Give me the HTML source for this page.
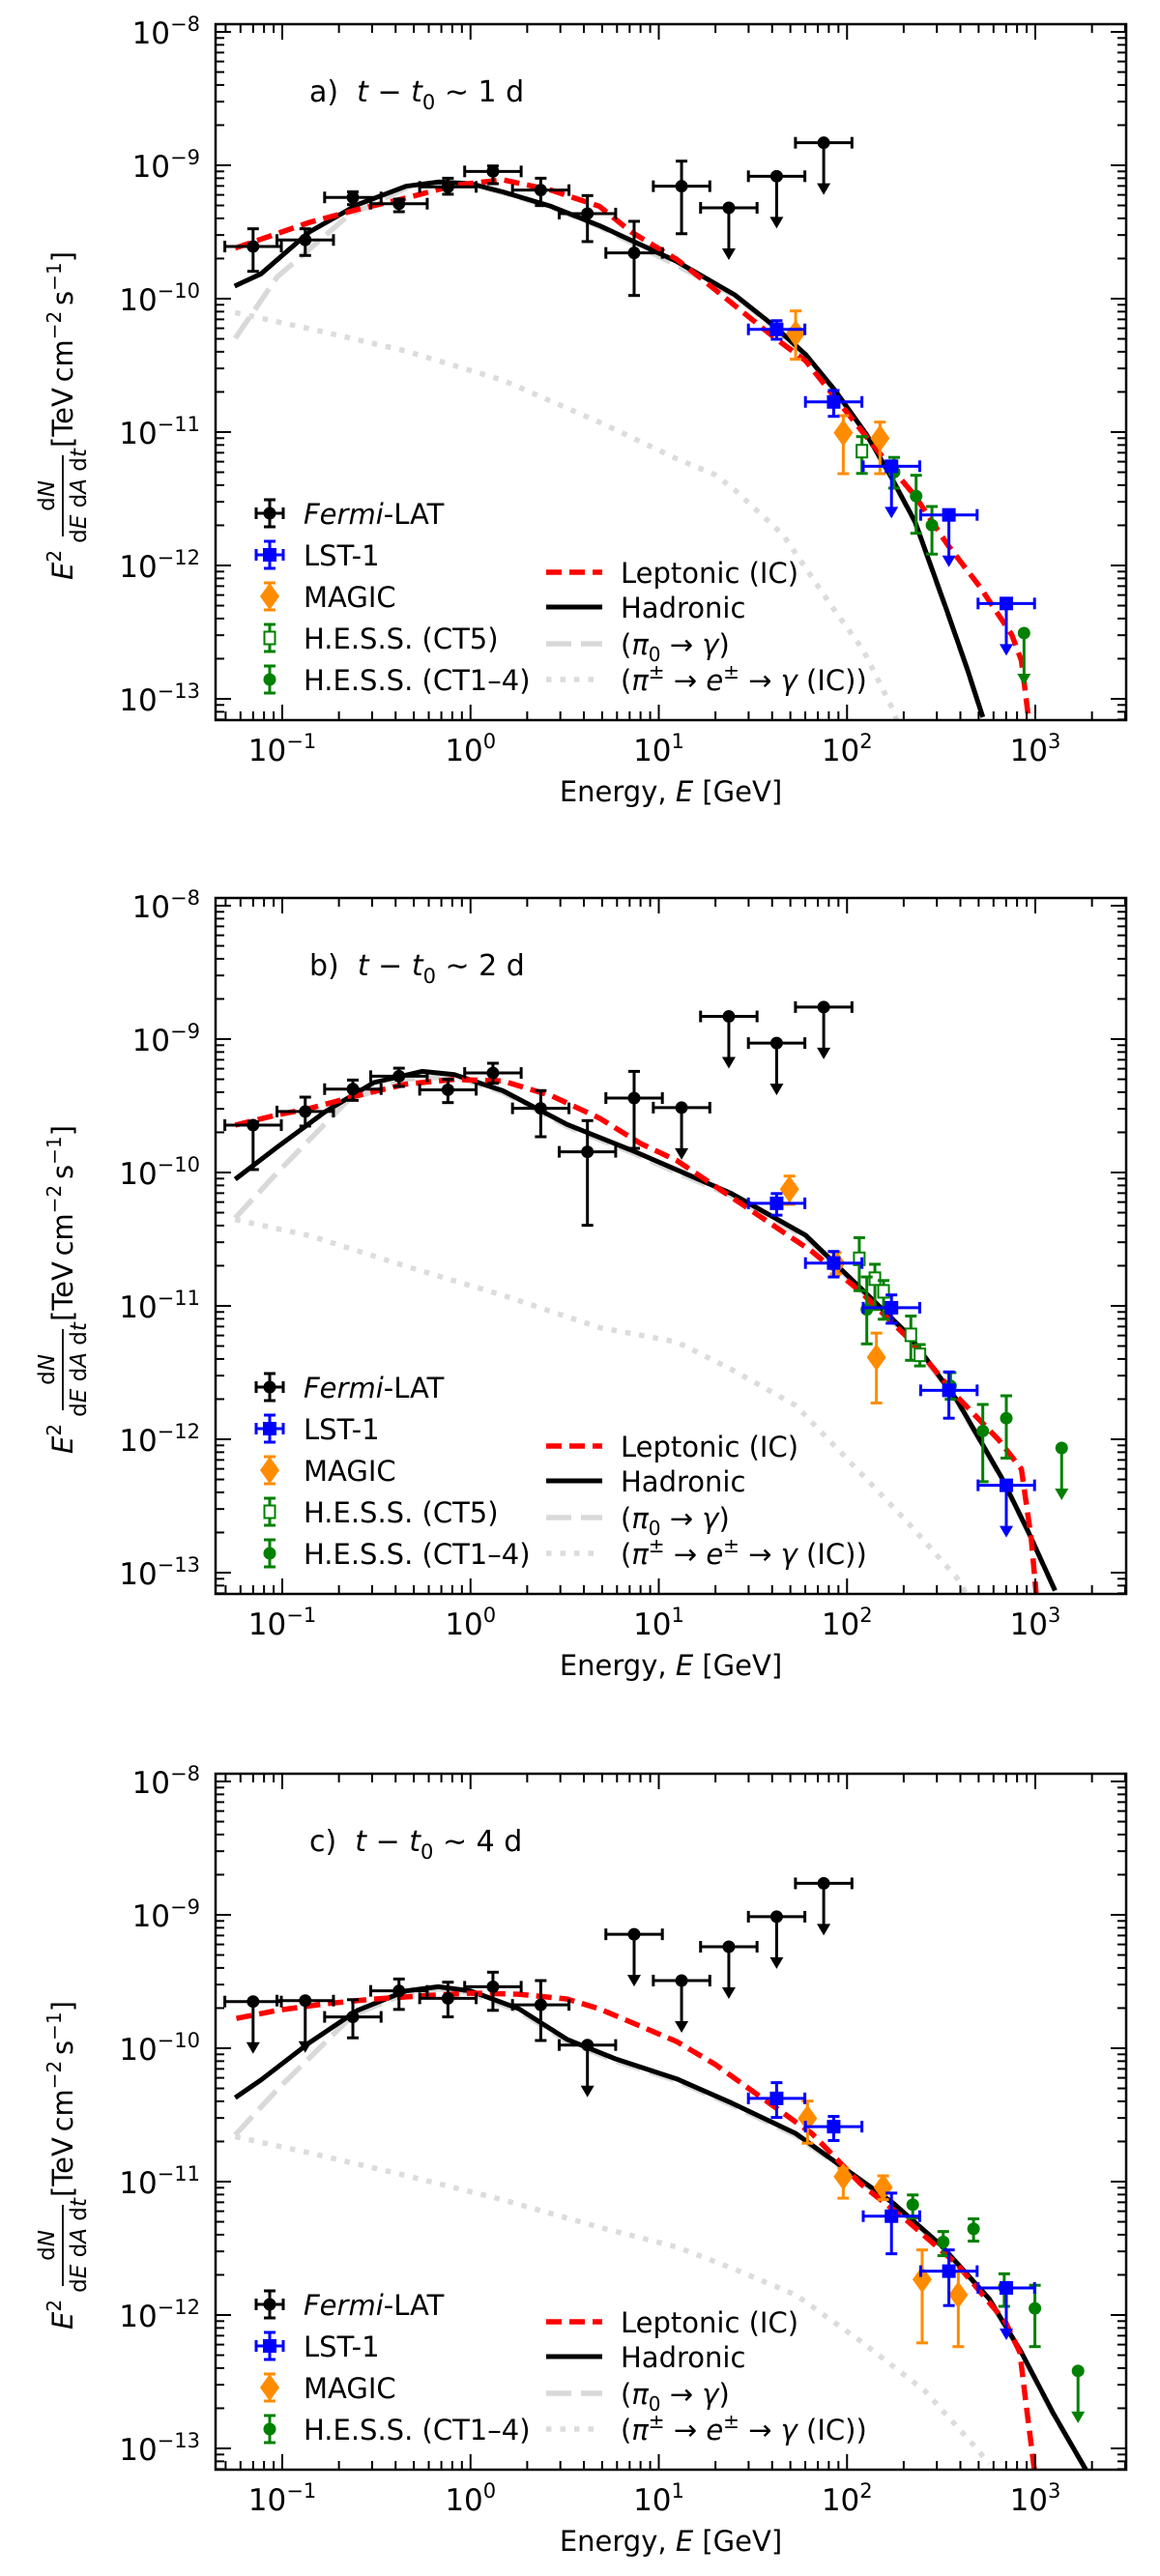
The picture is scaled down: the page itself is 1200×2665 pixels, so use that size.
<!DOCTYPE html>
<html><head><meta charset="utf-8"><style>
html,body{margin:0;padding:0;background:#fff;}
svg{display:block;font-family:"DejaVu Sans","Liberation Sans",sans-serif;}
</style></head><body>
<svg id="fig" width="1200" height="2665" viewBox="0 0 1200 2665" xmlns="http://www.w3.org/2000/svg"></svg>
<script>
// ===== Shared axis ticks =====
const xTickExps = [-1, 0, 1, 2, 3];
const yTickExps = [-8, -9, -10, -11, -12, -13];
const fermiLogE = [-1.155,-0.878,-0.625,-0.38,-0.12,0.119,0.373,0.621,0.869,1.121,1.372,1.626,1.876];
const lstLogE = [1.626,1.929,2.236,2.541,2.846];
const binHalfDec = 0.15;
const panelTitles = ["a)", "b)", "c)"];
const panelDays = ["1", "2", "4"];

// ===== Panel A data (log10 flux) =====
const fermiA_v  = [-9.609,-9.560,-9.241,-9.288,-9.162,-9.046,-9.186,-9.362,-9.657,-9.157,-9.319,-9.082,-8.831];
const fermiA_hi = [-9.476,-9.476,-9.199,-9.254,-9.097,-9.005,-9.097,-9.227,-9.420,-8.969,null,null,null];
const fermiA_lo = [-9.795,-9.676,-9.295,-9.348,-9.217,-9.138,-9.302,-9.572,-9.976,-9.513,null,null,null];
const fermiA_ul = [0,0,0,0,0,0,0,0,0,0,1,1,1];
const lstA_v  = [-10.230,-10.774,-11.256,-11.621,-12.285];
const lstA_hi = [-10.165,-10.688,null,null,null];
const lstA_lo = [-10.304,-10.882,null,null,null];
const lstA_ul = [0,0,1,1,1];
const magicA_E  = [1.727,1.980,2.175];
const magicA_v  = [-10.261,-11.005,-11.046];
const magicA_hi = [-10.092,-10.877,-10.925];
const magicA_lo = [-10.454,-11.312,-11.312];
const ct5A_E  = [2.079];
const ct5A_v  = [-11.143];
const ct5A_hi = [-11.034];
const ct5A_lo = [-11.31];
const ct14A_E  = [2.25,2.367,2.451,2.940];
const ct14A_v  = [-11.30,-11.48,-11.698,-12.507];
const ct14A_hi = [-11.19,-11.324,-11.558,null];
const ct14A_lo = [-11.42,-11.759,-11.915,null];
const ct14A_ul = [0,0,0,1];
const lepA_E = [-1.25,-0.856,-0.6,-0.343,-0.086,0.171,0.427,0.684,0.854,1.095,1.215,1.386,1.608,1.78,1.951,2.225,2.362,2.533,2.704,2.875,2.926,2.964,2.99];
const lepA_v = [-9.621,-9.428,-9.331,-9.246,-9.150,-9.109,-9.186,-9.307,-9.5,-9.705,-9.838,-10.031,-10.285,-10.466,-10.768,-11.251,-11.48,-11.843,-12.157,-12.52,-12.712,-13.145,-13.4];
const hadA_E = [-1.253,-1.113,-0.856,-0.6,-0.343,-0.171,0,0.171,0.427,0.684,1.095,1.403,1.608,1.78,1.934,2.105,2.225,2.362,2.533,2.635,2.721];
const hadA_v = [-9.906,-9.814,-9.5,-9.295,-9.157,-9.125,-9.138,-9.199,-9.307,-9.452,-9.72,-9.971,-10.2,-10.418,-10.683,-11.022,-11.312,-11.674,-12.35,-12.76,-13.136];
const pi0A_E = [-1.25,-1.027,-0.651,-0.343,-0.171,0,0.171,0.427,0.684,1.095,1.403,1.608,1.78,1.934,2.105,2.225,2.362,2.533,2.635,2.721];
const pi0A_v = [-10.297,-9.838,-9.379,-9.17,-9.135,-9.145,-9.205,-9.315,-9.46,-9.75,-9.98,-10.21,-10.425,-10.69,-11.03,-11.32,-11.68,-12.36,-12.77,-13.14];
const pipmA_E = [-1.25,-0.856,-0.343,0.171,0.684,1.095,1.3,1.403,1.66,1.917,2.088,2.24,2.3];
const pipmA_v = [-10.104,-10.225,-10.393,-10.611,-10.925,-11.2,-11.32,-11.433,-11.77,-12.302,-12.64,-13.07,-13.3];

// ===== Panel B data =====
const fermiB_v  = [-9.645,-9.543,-9.375,-9.278,-9.38,-9.254,-9.519,-9.845,-9.442,-9.514,-8.83,-9.03,-8.76];
const fermiB_hi = [-9.62,-9.435,-9.307,-9.218,-9.302,-9.181,-9.386,-9.611,-9.242,null,null,null,null];
const fermiB_lo = [-9.978,-9.652,-9.459,-9.355,-9.476,-9.331,-9.732,-10.396,-9.819,null,null,null,null];
const fermiB_ul = [0,0,0,0,0,0,0,0,0,1,1,1,1];
const lstB_v  = [-10.231,-10.679,-11.014,-11.633,-12.345];
const lstB_hi = [-10.158,-10.592,-10.918,-11.495,null];
const lstB_lo = [-10.32,-10.783,-11.13,-11.842,null];
const lstB_ul = [0,0,0,0,1];
const magicB_E  = [1.694,1.94,2.156];
const magicB_v  = [-10.125,-10.68,-11.386];
const magicB_hi = [-10.027,-10.6,-11.204];
const magicB_lo = [-10.239,-10.76,-11.728];
const ct5B_E  = [2.065,2.148,2.194,2.339,2.387];
const ct5B_v  = [-10.647,-10.796,-10.891,-11.217,-11.367];
const ct5B_hi = [-10.489,-10.688,-10.81,-11.076,-11.29];
const ct5B_lo = [-10.886,-11.027,-11.1,-11.408,-11.45];
const ct14B_E  = [2.105,2.55,2.721,2.846,3.14];
const ct14B_v  = [-11.027,-11.6,-11.938,-11.842,-12.065];
const ct14B_hi = [-10.783,-11.5,-11.739,-11.674,null];
const ct14B_lo = [-11.285,-11.7,-12.318,-12.141,null];
const ct14B_ul = [0,0,0,0,1];
const lepB_E = [-1.25,-1.027,-0.856,-0.6,-0.343,-0.086,0.171,0.427,0.684,0.906,1.095,1.3,1.557,1.814,2.07,2.327,2.584,2.806,2.926,2.978,3.003,3.02];
const lepB_v = [-9.645,-9.568,-9.52,-9.423,-9.338,-9.302,-9.314,-9.423,-9.592,-9.785,-9.91,-10.103,-10.348,-10.592,-10.891,-11.245,-11.679,-12.005,-12.223,-12.739,-13.133,-13.4];
const hadB_E = [-1.25,-1.027,-0.77,-0.514,-0.257,-0.086,0.171,0.513,0.855,1.095,1.386,1.78,2.07,2.327,2.584,2.823,2.96,3.105];
const hadB_v = [-10.051,-9.81,-9.543,-9.326,-9.242,-9.266,-9.387,-9.64,-9.833,-9.98,-10.158,-10.47,-10.864,-11.217,-11.707,-12.291,-12.685,-13.133];
const pi0B_E = [-1.25,-1.027,-0.651,-0.343,-0.086,0.171,0.513,0.855,1.095,1.386,1.78,2.07,2.327,2.584,2.823,2.96,3.105];
const pi0B_v = [-10.341,-10.002,-9.459,-9.30,-9.28,-9.40,-9.655,-9.85,-10.0,-10.175,-10.485,-10.88,-11.23,-11.72,-12.3,-12.69,-13.14];
const pipmB_E = [-1.25,-0.856,-0.343,0.171,0.684,1.095,1.386,1.728,2.07,2.327,2.584,2.65];
const pipmB_v = [-10.353,-10.473,-10.703,-10.92,-11.162,-11.27,-11.476,-11.747,-12.25,-12.63,-13.04,-13.2];

// ===== Panel C data =====
const fermiC_v  = [-9.650,-9.643,-9.765,-9.570,-9.626,-9.539,-9.675,-9.976,-9.146,-9.493,-9.239,-9.014,-8.764];
const fermiC_hi = [null,null,-9.636,-9.481,-9.505,-9.430,-9.493,null,null,null,null,null,null];
const fermiC_lo = [null,null,-9.922,-9.709,-9.765,-9.716,-9.942,null,null,null,null,null,null];
const fermiC_ul = [1,1,0,0,0,0,0,1,1,1,1,1,1];
const lstC_v  = [-10.376,-10.588,-11.259,-11.671,-11.797];
const lstC_hi = [-10.258,-10.511,-11.086,-11.512,null];
const lstC_lo = [-10.519,-10.692,-11.541,-11.929,null];
const lstC_ul = [0,0,0,0,1];
const magicC_E  = [1.79,1.98,2.192,2.399,2.591];
const magicC_v  = [-10.525,-10.963,-11.043,-11.734,-11.849];
const magicC_hi = [-10.396,-10.9,-10.957,-11.512,-11.676];
const magicC_lo = [-10.712,-11.124,-11.135,-12.209,-12.237];
const ct14C_E  = [2.349,2.511,2.672,2.835,2.998,3.227];
const ct14C_v  = [-11.173,-11.452,-11.354,-11.791,-11.95,-12.419];
const ct14C_hi = [-11.1,-11.374,-11.279,-11.691,-11.777,null];
const ct14C_lo = [-11.273,-11.555,-11.446,-11.935,-12.237,null];
const ct14C_ul = [0,0,0,0,0,1];
const lepC_E = [-1.244,-1.027,-0.77,-0.514,-0.257,0,0.257,0.513,0.684,0.906,1.095,1.3,1.557,1.814,2.07,2.327,2.584,2.841,2.918,2.952,2.995,3.01];
const lepC_v = [-9.777,-9.716,-9.667,-9.631,-9.607,-9.587,-9.595,-9.631,-9.704,-9.837,-9.95,-10.122,-10.381,-10.64,-11.014,-11.302,-11.619,-12.05,-12.28,-12.683,-13.158,-13.4];
const hadC_E = [-1.25,-1.113,-0.856,-0.6,-0.343,-0.171,0,0.257,0.513,0.77,1.095,1.386,1.728,1.985,2.242,2.498,2.755,2.926,3.097,3.268];
const hadC_v = [-10.371,-10.238,-9.959,-9.716,-9.570,-9.539,-9.570,-9.704,-9.934,-10.080,-10.23,-10.41,-10.64,-10.899,-11.158,-11.475,-11.878,-12.28,-12.741,-13.158];
const pi0C_E = [-1.25,-1.027,-0.625,-0.343,-0.171,0,0.257,0.513,0.77,1.095,1.386,1.728,1.985,2.242,2.498,2.755,2.926,3.097,3.268];
const pi0C_v = [-10.65,-10.311,-9.752,-9.59,-9.555,-9.585,-9.72,-9.95,-10.095,-10.245,-10.425,-10.655,-10.91,-11.17,-11.485,-11.885,-12.29,-12.75,-13.16];
const pipmC_E = [-1.25,-0.856,-0.343,0.171,0.684,1.095,1.386,1.728,2.07,2.413,2.67,2.755];
const pipmC_v = [-10.663,-10.784,-10.954,-11.136,-11.342,-11.49,-11.647,-11.849,-12.194,-12.568,-12.971,-13.115];

// ===== Drawing =====
const NS = "http://www.w3.org/2000/svg";
const svg = document.getElementById('fig');
const AX_L = 223, AX_R = 1165, AX_T = 25, AX_B = 745;
const LOGX_MIN = -1.354, LOGX_MAX = 3.483;
const offsets = [0, 904, 1810];
function xs(logE){ return 292 + (logE + 1) * 194.75; }
function ys(logv, off){ return off + 723 - (logv + 13) * 138; }
function mk(tag, attrs, parent){
  const e = document.createElementNS(NS, tag);
  for (const k in attrs) e.setAttribute(k, attrs[k]);
  (parent || svg).appendChild(e);
  return e;
}
function linePath(pts){
  return pts.map((p,i)=>(i?'L':'M')+p[0].toFixed(1)+','+p[1].toFixed(1)).join(' ');
}
function curve(g, E, V, off, style, name){
  const pts = E.map((e,i)=>[xs(e), ys(V[i], off)]);
  const p = mk('path', Object.assign({d: linePath(pts), fill:'none','stroke-linejoin':'round'}, style), g);
  
  
}
function line(g, x1,y1,x2,y2,color,w){ return mk('line',{x1,y1,x2,y2,stroke:color,'stroke-width':w},g); }
function arrowDown(g, x, y, color){
  line(g, x, y, x, y+44, color, 3);
  mk('polygon',{points:`${x-7},${y+42} ${x+7},${y+42} ${x},${y+54}`, fill:color}, g);
}
function marker(g, type, x, y, color){
  if (type==='circle') mk('circle',{cx:x,cy:y,r:6.5,fill:color},g);
  else if (type==='square') mk('rect',{x:x-7,y:y-7,width:14,height:14,fill:color},g);
  else if (type==='diamond') mk('polygon',{points:`${x},${y-14} ${x+10},${y} ${x},${y+14} ${x-10},${y}`,fill:color},g);
  else if (type==='open') mk('rect',{x:x-5.5,y:y-6.5,width:11,height:13,fill:'#fff',stroke:color,'stroke-width':2},g);
}
function series(g, off, name, E, V, HI, LO, UL, color, type, xerr){
  const grp = mk('g', {}, g);
  
  
  E.forEach((e,i)=>{
    const x = xs(e), y = ys(V[i], off);
    const pg = mk('g', {}, grp);
    
    
    if (xerr){
      const xl = xs(e - binHalfDec), xr = xs(e + binHalfDec);
      line(pg, xl, y, xr, y, color, 3);
      line(pg, xl, y-6, xl, y+6, color, 3);
      line(pg, xr, y-6, xr, y+6, color, 3);
    }
    if (UL && UL[i]) arrowDown(pg, x, y, color);
    else if (HI && HI[i] != null){
      const yh = ys(HI[i], off), yl = ys(LO[i], off);
      line(pg, x, yh, x, yl, color, 3);
      line(pg, x-6, yh, x+6, yh, color, 3);
      line(pg, x-6, yl, x+6, yl, color, 3);
    }
    marker(pg, type, x, y, color);
  });
}
function sup(t, txt, size, shift){
  const s = mk('tspan', {'font-size':size, dy:shift}, t); s.textContent = txt; return s;
}
function drawAxes(g, off){
  const ax = mk('g', {}, g);
  
  
  mk('rect',{x:AX_L,y:off+AX_T,width:AX_R-AX_L,height:AX_B-AX_T,fill:'none',stroke:'#000','stroke-width':2.5},ax);
  for (let d = -2; d <= 3; d++){
    for (let m = 1; m <= 9; m++){
      const lg = d + Math.log10(m);
      if (lg < LOGX_MIN || lg > LOGX_MAX) continue;
      const x = xs(lg), len = m===1 ? 16 : 9;
      line(ax, x, off+AX_B, x, off+AX_B-len, '#000', 2);
      line(ax, x, off+AX_T, x, off+AX_T+len, '#000', 2);
    }
  }
  for (let d = -14; d <= -8; d++){
    for (let m = 1; m <= 9; m++){
      const lg = d + Math.log10(m);
      const y = ys(lg, off);
      if (y < off+AX_T || y > off+AX_B) continue;
      const len = m===1 ? 16 : 9;
      line(ax, AX_L, y, AX_L+len, y, '#000', 2);
      line(ax, AX_R, y, AX_R-len, y, '#000', 2);
    }
  }
  xTickExps.forEach(ex=>{
    const t = mk('text',{x:xs(ex), y:off+787, 'font-size':31, 'text-anchor':'middle'}, ax);
    
    
    const a = mk('tspan',{},t); a.textContent='10';
    sup(t, ex<0 ? '\u2212'+(-ex) : String(ex), 21, -13);
  });
  yTickExps.forEach(ex=>{
    const t = mk('text',{x:207, y:ys(ex,off)+12, 'font-size':31, 'text-anchor':'end'}, ax);
    
    
    const a = mk('tspan',{},t); a.textContent='10';
    sup(t, '\u2212'+(-ex), 21, -13);
  });
  const xl = mk('text',{x:694, y:off+829, 'font-size':29, 'text-anchor':'middle'}, ax);
  
  
  let s = mk('tspan',{},xl); s.textContent='Energy, ';
  s = mk('tspan',{'font-style':'italic'},xl); s.textContent='E';
  s = mk('tspan',{},xl); s.textContent=' [GeV]';
  const yl = mk('g',{transform:`translate(64,${off+385}) rotate(-90)`}, ax);
  
  
  let t = mk('text',{x:-215,y:11,'font-size':29},yl);
  s = mk('tspan',{'font-style':'italic'},t); s.textContent='E';
  sup(t,'2',20,-12);
  t = mk('text',{x:-128,y:-8,'font-size':23,'text-anchor':'middle'},yl);
  s = mk('tspan',{},t); s.textContent='d';
  s = mk('tspan',{'font-style':'italic'},t); s.textContent='N';
  line(yl, -170, 1, -86, 1, '#000', 1.8);
  t = mk('text',{x:-128,y:25,'font-size':23,'text-anchor':'middle'},yl);
  s = mk('tspan',{},t); s.textContent='d';
  s = mk('tspan',{'font-style':'italic'},t); s.textContent='E';
  s = mk('tspan',{},t); s.textContent=' d';
  s = mk('tspan',{'font-style':'italic'},t); s.textContent='A';
  s = mk('tspan',{},t); s.textContent=' d';
  s = mk('tspan',{'font-style':'italic'},t); s.textContent='t';
  t = mk('text',{x:-78,y:11,'font-size':29},yl);
  s = mk('tspan',{},t); s.textContent='[TeV\u2009cm';
  sup(t,'\u22122',20,-12);
  s = mk('tspan',{dy:12},t); s.textContent='\u2009s';
  sup(t,'\u22121',20,-12);
  s = mk('tspan',{dy:12},t); s.textContent=']';
}
function drawTitle(g, off, idx){
  const t = mk('text',{x:320,y:off+105,'font-size':30},g);
  
  
  let s = mk('tspan',{},t); s.textContent = panelTitles[idx] + '\u00a0\u00a0';
  s = mk('tspan',{'font-style':'italic'},t); s.textContent='t';
  s = mk('tspan',{},t); s.textContent=' \u2212 ';
  s = mk('tspan',{'font-style':'italic'},t); s.textContent='t';
  s = mk('tspan',{'font-size':21,dy:8},t); s.textContent='0';
  s = mk('tspan',{dy:-8},t); s.textContent=' \u223c ' + panelDays[idx] + ' d';
}
function drawLegend(g, off, hasCT5){
  const lg = mk('g',{},g);
  
  
  const left = [['Fermi-LAT','#000','circle',true],['LST-1','#0000ff','square',true],['MAGIC','#ff8c00','diamond',false]];
  if (hasCT5) left.push(['H.E.S.S. (CT5)','#008000','open',false]);
  left.push(['H.E.S.S. (CT1\u20134)','#008000','circle',false]);
  const rowsL = hasCT5 ? [531,574,617,660,703] : [574,617,660,703];
  left.forEach((it,i)=>{
    const y = off + rowsL[i], x = 279;
    const e = mk('g',{},lg);
    
    
    line(e, x, y-14, x, y+14, it[1], 3);
    line(e, x-6, y-14, x+6, y-14, it[1], 3);
    line(e, x-6, y+14, x+6, y+14, it[1], 3);
    if (it[3]){ line(e, x-14, y, x+14, y, it[1], 3); line(e,x-14,y-6,x-14,y+6,it[1],3); line(e,x+14,y-6,x+14,y+6,it[1],3); }
    marker(e, it[2], x, y, it[1]);
    const t = mk('text',{x:314,y:y+11,'font-size':29},e);
    if (i===0){ let s=mk('tspan',{'font-style':'italic'},t); s.textContent='Fermi'; s=mk('tspan',{},t); s.textContent='-LAT'; }
    else t.textContent = it[0];
  });
  const right = [
    ['Leptonic (IC)', {stroke:'#ff0000','stroke-width':5.5,'stroke-dasharray':'16,8'}],
    ['Hadronic', {stroke:'#000','stroke-width':5}],
    ['pi0', {stroke:'#d9d9d9','stroke-width':5.5,'stroke-dasharray':'26,10'}],
    ['pipm', {stroke:'#dcdcdc','stroke-width':5.5,'stroke-dasharray':'5.5,9'}]
  ];
  const rowsR = [592,628,666,703];
  right.forEach((it,i)=>{
    const y = off + rowsR[i];
    const e = mk('g',{},lg);
    
    
    mk('line', Object.assign({x1:565,y1:y,x2:623,y2:y}, it[1]), e);
    const t = mk('text',{x:642,y:y+11,'font-size':29},e);
    let s;
    if (it[0]==='pi0'){
      s=mk('tspan',{},t); s.textContent='(';
      s=mk('tspan',{'font-style':'italic'},t); s.textContent='\u03c0';
      s=mk('tspan',{'font-size':20,dy:7},t); s.textContent='0';
      s=mk('tspan',{dy:-7},t); s.textContent=' \u2192 ';
      s=mk('tspan',{'font-style':'italic'},t); s.textContent='\u03b3';
      s=mk('tspan',{},t); s.textContent=')';
    } else if (it[0]==='pipm'){
      s=mk('tspan',{},t); s.textContent='(';
      s=mk('tspan',{'font-style':'italic'},t); s.textContent='\u03c0';
      sup(t,'\u00b1',20,-12);
      s=mk('tspan',{dy:12},t); s.textContent=' \u2192 ';
      s=mk('tspan',{'font-style':'italic'},t); s.textContent='e';
      sup(t,'\u00b1',20,-12);
      s=mk('tspan',{dy:12},t); s.textContent=' \u2192 ';
      s=mk('tspan',{'font-style':'italic'},t); s.textContent='\u03b3';
      s=mk('tspan',{},t); s.textContent=' (IC))';
    } else t.textContent = it[0];
  });
}
const panels = [
  {fermi:[fermiA_v,fermiA_hi,fermiA_lo,fermiA_ul], lst:[lstA_v,lstA_hi,lstA_lo,lstA_ul],
   magic:[magicA_E,magicA_v,magicA_hi,magicA_lo], ct5:[ct5A_E,ct5A_v,ct5A_hi,ct5A_lo],
   ct14:[ct14A_E,ct14A_v,ct14A_hi,ct14A_lo,ct14A_ul],
   lep:[lepA_E,lepA_v], had:[hadA_E,hadA_v], pi0:[pi0A_E,pi0A_v], pipm:[pipmA_E,pipmA_v]},
  {fermi:[fermiB_v,fermiB_hi,fermiB_lo,fermiB_ul], lst:[lstB_v,lstB_hi,lstB_lo,lstB_ul],
   magic:[magicB_E,magicB_v,magicB_hi,magicB_lo], ct5:[ct5B_E,ct5B_v,ct5B_hi,ct5B_lo],
   ct14:[ct14B_E,ct14B_v,ct14B_hi,ct14B_lo,ct14B_ul],
   lep:[lepB_E,lepB_v], had:[hadB_E,hadB_v], pi0:[pi0B_E,pi0B_v], pipm:[pipmB_E,pipmB_v]},
  {fermi:[fermiC_v,fermiC_hi,fermiC_lo,fermiC_ul], lst:[lstC_v,lstC_hi,lstC_lo,lstC_ul],
   magic:[magicC_E,magicC_v,magicC_hi,magicC_lo], ct5:null,
   ct14:[ct14C_E,ct14C_v,ct14C_hi,ct14C_lo,ct14C_ul],
   lep:[lepC_E,lepC_v], had:[hadC_E,hadC_v], pi0:[pi0C_E,pi0C_v], pipm:[pipmC_E,pipmC_v]}
];
const defs = mk('defs',{});
panels.forEach((P, idx)=>{
  const off = offsets[idx];
  const cp = mk('clipPath',{id:'clip'+idx}, defs);
  mk('rect',{x:AX_L,y:off+AX_T,width:AX_R-AX_L,height:AX_B-AX_T},cp);
  const g = mk('g',{});
  
  
  const plot = mk('g',{'clip-path':`url(#clip${idx})`}, g);
  curve(plot, P.pipm[0], P.pipm[1], off, {stroke:'#dcdcdc','stroke-width':5.5,'stroke-dasharray':'5.5,9'}, 'pion-charged-ic-curve');
  curve(plot, P.pi0[0], P.pi0[1], off, {stroke:'#d9d9d9','stroke-width':5.5,'stroke-dasharray':'26,10'}, 'pion-neutral-curve');
  curve(plot, P.had[0], P.had[1], off, {stroke:'#000','stroke-width':5}, 'hadronic-curve');
  curve(plot, P.lep[0], P.lep[1], off, {stroke:'#ff0000','stroke-width':5.5,'stroke-dasharray':'16,8'}, 'leptonic-curve');
  series(plot, off, 'fermi-lat-series', fermiLogE, P.fermi[0], P.fermi[1], P.fermi[2], P.fermi[3], '#000', 'circle', true);
  series(plot, off, 'magic-series', P.magic[0], P.magic[1], P.magic[2], P.magic[3], null, '#ff8c00', 'diamond', false);
  if (P.ct5) series(plot, off, 'hess-ct5-series', P.ct5[0], P.ct5[1], P.ct5[2], P.ct5[3], null, '#008000', 'open', false);
  series(plot, off, 'hess-ct1-4-series', P.ct14[0], P.ct14[1], P.ct14[2], P.ct14[3], P.ct14[4], '#008000', 'circle', false);
  series(plot, off, 'lst-1-series', lstLogE, P.lst[0], P.lst[1], P.lst[2], P.lst[3], '#0000ff', 'square', true);
  drawAxes(g, off);
  drawTitle(g, off, idx);
  drawLegend(g, off, !!P.ct5);
});
</script>
</body></html>
